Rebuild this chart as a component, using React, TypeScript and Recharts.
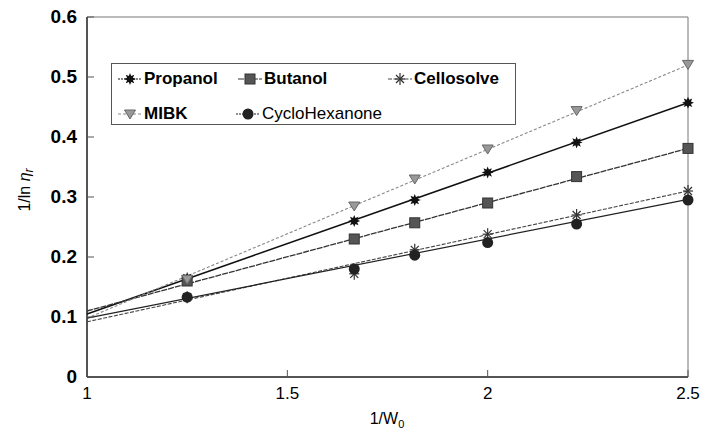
import React from "react";
import {
  ComposedChart,
  Scatter,
  XAxis,
  YAxis,
  ReferenceArea,
  Label,
} from "recharts";

const xPoints = [1.25, 1.667, 1.818, 2.0, 2.222, 2.5];
const propanol = [0.165, 0.26, 0.295, 0.341, 0.391, 0.457];
const butanol = [0.16, 0.23, 0.257, 0.29, 0.334, 0.381];
const cellosolve = [0.133, 0.172, 0.212, 0.238, 0.27, 0.31];
const mibk = [0.163, 0.285, 0.33, 0.38, 0.444, 0.521];
const cyclohexanone = [0.133, 0.18, 0.203, 0.224, 0.255, 0.295];

// fitted line ends, read at x = 1 and x = 2.5
const fitX = [1, 2.5];
const propanolFit = [0.105, 0.457];
const butanolFit = [0.11, 0.381];
const cellosolveFit = [0.092, 0.31];
const mibkFit = [0.098, 0.52];
const cyclohexanoneFit = [0.098, 0.296];

const xTicks = [1, 1.5, 2, 2.5];
const yTicks = [0, 0.1, 0.2, 0.3, 0.4, 0.5, 0.6];

const font = "'Liberation Sans', Arial, sans-serif";

type Marker = "star" | "square" | "thinstar" | "triangle" | "circle";

function drawMarker(kind: Marker, cx: number, cy: number) {
  switch (kind) {
    case "star": {
      const pts: string[] = [];
      for (let i = 0; i < 16; i++) {
        const r = i % 2 === 0 ? 6 : 3.2;
        const a = (Math.PI * i) / 8;
        pts.push(`${cx + r * Math.cos(a)},${cy + r * Math.sin(a)}`);
      }
      return <polygon points={pts.join(" ")} fill="#111" />;
    }
    case "square":
      return (
        <rect x={cx - 5} y={cy - 5} width={10} height={10} fill="#555" stroke="#333" strokeWidth={1} />
      );
    case "thinstar":
      return (
        <g stroke="#333" strokeWidth={1.2}>
          <line x1={cx - 5} y1={cy} x2={cx + 5} y2={cy} />
          <line x1={cx} y1={cy - 6} x2={cx} y2={cy + 6} />
          <line x1={cx - 4} y1={cy - 4} x2={cx + 4} y2={cy + 4} />
          <line x1={cx - 4} y1={cy + 4} x2={cx + 4} y2={cy - 4} />
        </g>
      );
    case "triangle":
      return (
        <polygon
          points={`${cx - 5.5},${cy - 4} ${cx + 5.5},${cy - 4} ${cx},${cy + 5}`}
          fill="#999"
          stroke="#666"
          strokeWidth={1}
        />
      );
    default:
      return <circle cx={cx} cy={cy} r={5.5} fill="#222" />;
  }
}

const series = [
  { name: "Propanol", values: propanol, fit: propanolFit, marker: "star" as Marker, stroke: "#111", dash: "", width: 1.5, bold: true },
  { name: "Butanol", values: butanol, fit: butanolFit, marker: "square" as Marker, stroke: "#333", dash: "6 1", width: 1.3, bold: true },
  { name: "Cellosolve", values: cellosolve, fit: cellosolveFit, marker: "thinstar" as Marker, stroke: "#444", dash: "4 1.5", width: 1.1, bold: true },
  { name: "MIBK", values: mibk, fit: mibkFit, marker: "triangle" as Marker, stroke: "#888", dash: "3 2", width: 1.1, bold: true },
  { name: "CycloHexanone", values: cyclohexanone, fit: cyclohexanoneFit, marker: "circle" as Marker, stroke: "#222", dash: "", width: 1.2, bold: false },
];

function LegendSample({ s }: { s: (typeof series)[number] }) {
  return (
    <svg width={24} height={16} style={{ verticalAlign: "middle" }}>
      <line x1={0} y1={8} x2={24} y2={8} stroke={s.stroke} strokeWidth={1} strokeDasharray={s.dash || "2 1"} />
      {drawMarker(s.marker, 12, 8)}
    </svg>
  );
}

function LegendBox() {
  const item = (s: (typeof series)[number], w: number) => (
    <div style={{ display: "inline-flex", alignItems: "center", width: w }}>
      <LegendSample s={s} />
      <span style={{ marginLeft: 2, fontWeight: s.bold ? "bold" : "normal" }}>{s.name}</span>
    </div>
  );
  return (
    <div
      style={{
        position: "absolute",
        left: 111,
        top: 63,
        width: 405,
        height: 62,
        border: "1px solid #555",
        background: "#fff",
        fontFamily: font,
        fontSize: 17,
        color: "#000",
        boxSizing: "border-box",
        padding: "3px 0 0 6px",
        lineHeight: "24px",
      }}
    >
      <div>
        {item(series[0], 120)}
        {item(series[1], 150)}
        {item(series[2], 120)}
      </div>
      <div style={{ marginTop: 8 }}>
        {item(series[3], 118)}
        {item(series[4], 200)}
      </div>
    </div>
  );
}

function YTick(props: any) {
  const { x, y, payload } = props;
  return (
    <g>
      <line x1={87} y1={y} x2={94} y2={y} stroke="#555" />
      <text x={x} y={y} dy={6} textAnchor="end" fontFamily={font} fontSize={19} fontWeight="bold" fill="#000">
        {payload.value === 0 ? "0" : payload.value.toFixed(1)}
      </text>
    </g>
  );
}

function XTick(props: any) {
  const { x, y, payload } = props;
  return (
    <g>
      <line x1={x} y1={377} x2={x} y2={370} stroke="#555" />
      <text x={x} y={y} dy={14} textAnchor="middle" fontFamily={font} fontSize={17} fill="#000">
        {String(payload.value)}
      </text>
    </g>
  );
}

export default function App() {
  return (
    <div style={{ position: "absolute", left: 0, top: 0, width: 701, height: 432, background: "#fff" }}>
      <ComposedChart width={701} height={432} margin={{ top: 17, right: 13, bottom: 0, left: 0 }}>
        <XAxis
          type="number"
          dataKey="x"
          domain={[1, 2.5]}
          ticks={xTicks}
          height={55}
          tickLine={false}
          tickSize={0}
          tickMargin={8}
          tick={<XTick />}
          axisLine={{ stroke: "#333", strokeWidth: 1.5 }}
        >
          <Label
            content={() => (
              <text x={387} y={424} textAnchor="middle" fontFamily={font} fontSize={16} fill="#000">
                1/W<tspan fontSize={11} dy={4}>0</tspan>
              </text>
            )}
          />
        </XAxis>
        <YAxis
          type="number"
          dataKey="y"
          domain={[0, 0.6]}
          ticks={yTicks}
          width={87}
          tickLine={false}
          tickSize={0}
          tickMargin={10}
          tick={<YTick />}
          axisLine={{ stroke: "#333", strokeWidth: 1.5 }}
        >
          <Label
            content={() => (
              <text
                x={30}
                y={190}
                transform="rotate(-90 30 190)"
                textAnchor="middle"
                fontFamily={font}
                fontSize={16}
                fill="#000"
              >
                1/ln <tspan fontStyle="italic">η</tspan>
                <tspan fontStyle="italic" fontSize={12} dy={3}>r</tspan>
              </text>
            )}
          />
        </YAxis>
        <ReferenceArea x1={1} x2={2.5} y1={0} y2={0.6} fill="none" stroke="#777" strokeWidth={1} />
        {series.map((s) => (
          <Scatter
            key={s.name + "-fit"}
            data={fitX.map((x, i) => ({ x, y: s.fit[i] }))}
            line={{ stroke: s.stroke, strokeWidth: s.width, strokeDasharray: s.dash }}
            shape={() => <g />}
            legendType="none"
            isAnimationActive={false}
          />
        ))}
        {series.map((s) => (
          <Scatter
            key={s.name}
            name={s.name}
            data={xPoints.map((x, i) => ({ x, y: s.values[i] }))}
            shape={(p: any) => drawMarker(s.marker, p.cx, p.cy)}
            isAnimationActive={false}
          />
        ))}
      </ComposedChart>
      <LegendBox />
    </div>
  );
}
